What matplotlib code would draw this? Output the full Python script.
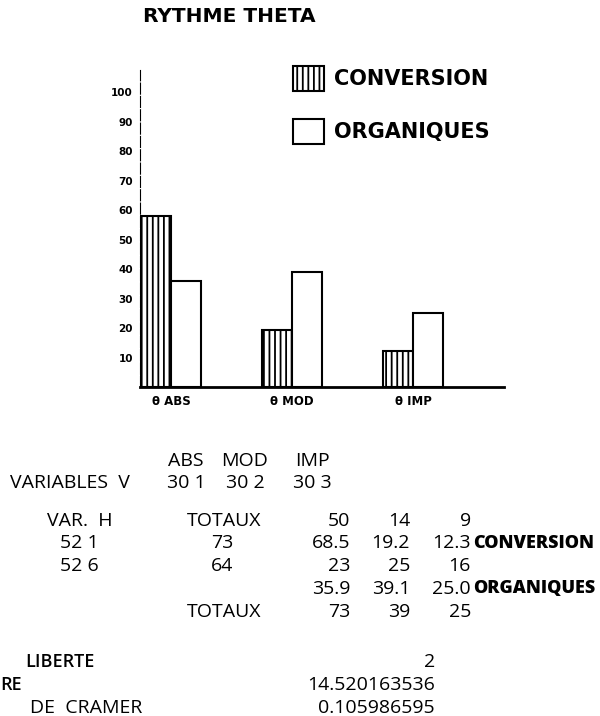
import numpy as np
import matplotlib.pyplot as plt
from matplotlib.patches import Patch

# bar chart data
groups = ['θ ABS', 'θ MOD', 'θ IMP']
conversion = [58, 19.2, 12.3]
organiques = [35.9, 39.1, 25.0]
yticks = [10, 20, 30, 40, 50, 60, 70, 80, 90, 100]

# contingency table below the chart
col_names = ['ABS', 'MOD', 'IMP']
var_v = ['30 1', '30 2', '30 3']
var_h = ['52 1', '52 6']
row_tot = [73, 64]
col_tot_top = ['50', '14', '9']
conv_pct = ['68.5', '19.2', '12.3']
org_n = ['23', '25', '16']
org_pct = ['35.9', '39.1', '25.0']
col_tot_bot = ['73', '39', '25']
stat_names = ['LIBERTE', 'RE', 'DE  CRAMER']
stat_vals = ['2', '14.520163536', '0.105986595']

W, H = 600, 716
fig = plt.figure(figsize=(W / 100, H / 100), dpi=100)
plt.rcParams['hatch.linewidth'] = 1.3

def fx(x):
    return x / W

def fy(y):
    return 1 - y / H

ax = fig.add_axes([fx(140), fy(387), fx(504) - fx(140), fy(70) - fy(387)])
x = np.arange(len(groups))
w = 0.25
ax.bar(x - w / 2, conversion, w, facecolor='white', edgecolor='black',
       hatch='|||', linewidth=1.5)
ax.bar(x + w / 2, organiques, w, facecolor='white', edgecolor='black',
       linewidth=1.5)
ax.set_xlim(-0.256, 2.752)
ax.set_ylim(0, 107.5)
ax.set_yticks(yticks)
ax.set_yticklabels([str(t) for t in yticks], fontsize=7.5, fontweight='heavy')
ax.set_xticks(x)
ax.set_xticklabels(groups, fontsize=8.5, fontweight='heavy')
ax.tick_params(axis='both', length=0)
ax.tick_params(axis='y', pad=5)
ax.tick_params(axis='x', pad=6)
for s in ['top', 'right']:
    ax.spines[s].set_visible(False)
ax.spines['left'].set_linewidth(0.8)
ax.spines['left'].set_linestyle((0, (10, 2)))
ax.spines['bottom'].set_linewidth(2)

fig.text(fx(143), fy(17), 'RYTHME THETA', fontsize=14.5, fontweight='bold',
         va='center', ha='left')

handles = [Patch(facecolor='white', edgecolor='black', hatch='|||', linewidth=1.5),
           Patch(facecolor='white', edgecolor='black', linewidth=1.5)]
fig.legend(handles, ['CONVERSION', 'ORGANIQUES'], loc='upper left',
           bbox_to_anchor=(fx(293), fy(66)), frameon=False, borderpad=0,
           borderaxespad=0, handlelength=1.5, handleheight=1.45,
           handletextpad=0.45, labelspacing=1.35,
           prop={'size': 15, 'weight': 'bold'})

# table
tf = {'fontsize': 14, 'family': 'Open Sans'}
cols = [186, 245, 312]
for cx, n, v in zip(cols, col_names, var_v):
    fig.text(fx(cx), fy(461), n, ha='center', va='center', **tf)
    fig.text(fx(cx), fy(483), v, ha='center', va='center', **tf)
fig.text(fx(10), fy(483), 'VARIABLES  V', ha='left', va='center', **tf)

rows = [521, 543, 566, 589, 612]
fig.text(fx(80), fy(rows[0]), 'VAR.  H', ha='center', va='center', **tf)
fig.text(fx(224), fy(rows[0]), 'TOTAUX', ha='center', va='center', **tf)
fig.text(fx(224), fy(rows[4]), 'TOTAUX', ha='center', va='center', **tf)
for ry, h, t in zip(rows[1:3], var_h, row_tot):
    fig.text(fx(79), fy(ry), h, ha='center', va='center', **tf)
    fig.text(fx(222), fy(ry), str(t), ha='center', va='center', **tf)

rights = [350, 410, 471]
for ry, vals in zip(rows, [col_tot_top, conv_pct, org_n, org_pct, col_tot_bot]):
    for rx, v in zip(rights, vals):
        fig.text(fx(rx), fy(ry), v, ha='right', va='center', **tf)
bf = {'fontsize': 13, 'family': 'Open Sans', 'fontweight': 'heavy'}
fig.text(fx(473), fy(rows[1]), 'CONVERSION', ha='left', va='center', **bf)
fig.text(fx(473), fy(rows[3]), 'ORGANIQUES', ha='left', va='center', **bf)

stat_rows = [662, 685, 708]
stat_x = [25, 0, 30]
for ry, sx, n, v in zip(stat_rows, stat_x, stat_names, stat_vals):
    fig.text(fx(sx), fy(ry), n, ha='left', va='center', family='Open Sans',
             fontsize=13 if n != 'DE  CRAMER' else 14,
             fontweight='semibold' if n != 'DE  CRAMER' else 'normal')
    fig.text(fx(435), fy(ry), v, ha='right', va='center', **tf)

fig.savefig('out.png', dpi=100)
